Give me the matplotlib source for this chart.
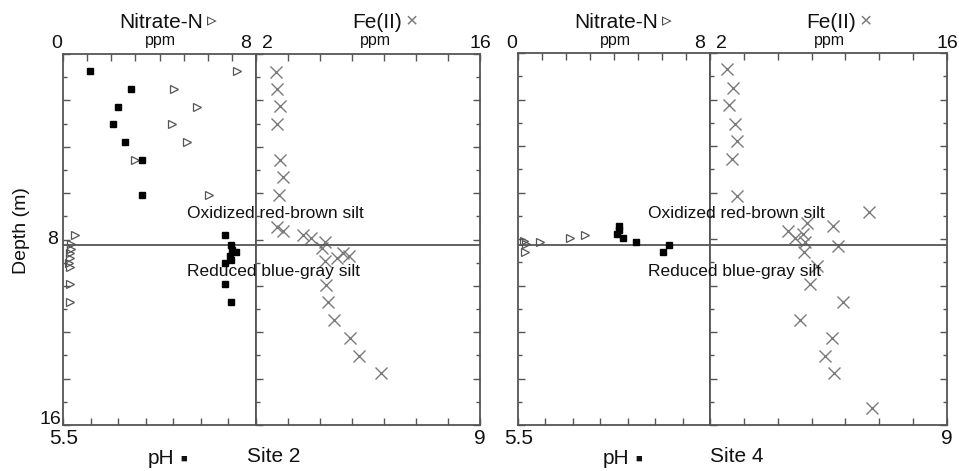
import matplotlib
matplotlib.use('Agg')
import matplotlib.pyplot as plt
from matplotlib.ticker import MultipleLocator

plt.rcParams['font.family'] = ['Liberation Sans', 'DejaVu Sans']

# ---- data ----
# Site 2
site2_ph_depth = [0.72, 1.53, 2.27, 3.04, 3.79, 4.59, 6.10, 7.80, 8.25, 8.45, 8.55, 8.70, 8.90, 9.02, 9.91, 10.70]
site2_ph = [5.73, 6.07, 5.96, 5.92, 6.02, 6.16, 6.16, 6.86, 6.91, 6.92, 6.95, 6.90, 6.91, 6.86, 6.86, 6.91]

site2_no3_depth = [0.72, 1.53, 2.27, 3.04, 3.79, 4.59, 6.10, 7.80, 8.20, 8.40, 8.59, 8.80, 9.02, 9.17, 9.91, 10.70]
site2_no3 = [7.20, 4.59, 5.56, 4.50, 5.15, 2.98, 6.05, 0.49, 0.32, 0.35, 0.28, 0.28, 0.24, 0.28, 0.28, 0.28]

site2_fe_depth = [0.78, 1.51, 2.23, 3.02, 4.56, 5.32, 6.10, 7.48, 7.63, 7.80, 7.94, 8.09, 8.37,
                  8.92, 8.78, 8.59, 8.73, 9.96, 10.68, 11.48, 12.23, 13.02, 13.77]
site2_fe = [3.25, 3.33, 3.50, 3.29, 3.50, 3.67, 3.44, 3.29, 3.71, 4.96, 5.44, 6.31, 6.10,
            6.31, 7.04, 7.46, 7.83, 6.38, 6.48, 6.88, 7.88, 8.46, 9.79]

# Site 4
site4_ph_depth = [7.45, 7.62, 7.80, 7.96, 8.11, 8.25, 8.54]
site4_ph = [6.32, 6.32, 6.31, 6.36, 6.46, 6.73, 6.68]

site4_no3_depth = [7.82, 7.94, 8.11, 8.10, 8.22, 8.57]
site4_no3 = [2.80, 2.18, 0.93, 0.25, 0.33, 0.28]

site4_fe_depth = [0.69, 1.51, 2.23, 3.04, 3.80, 4.56, 6.13, 6.85, 7.65, 7.94, 8.11, 8.57, 7.79, 7.32,
                  7.46, 8.30, 9.14, 9.95, 10.69, 11.48, 12.24, 13.03, 13.78, 15.28]
site4_fe = [2.98, 3.34, 3.14, 3.49, 3.57, 3.28, 3.57, 11.40, 6.62, 7.01, 7.60, 7.55, 7.51, 7.74,
            9.27, 9.57, 8.33, 7.90, 9.86, 7.31, 9.18, 8.78, 9.32, 11.58]

# depth of the oxidized / reduced boundary
site2_boundary = 8.23
site4_boundary = 8.25

# ---- figure ----
W, H = 959, 471
fig = plt.figure(figsize=(W / 100, H / 100), dpi=100)

FRAME = '#555555'
GRAY = '#7a7a7a'


def px_axes(x0, x1, top, bot):
    return fig.add_axes([x0 / W, 1 - bot / H, (x1 - x0) / W, (bot - top) / H])


def ftext(x, y, s, **kw):
    kw.setdefault('ha', 'center')
    kw.setdefault('va', 'center')
    kw.setdefault('color', '#111111')
    fig.text(x / W, 1 - y / H, s, **kw)


def style_depth(ax, left=True, right=False):
    ax.set_ylim(16, 0)
    ax.yaxis.set_major_locator(MultipleLocator(2))
    ax.yaxis.set_minor_locator(MultipleLocator(1))
    ax.tick_params(axis='y', which='both', direction='in', left=left, right=right,
                   labelleft=False, labelright=False, color=FRAME, width=1)
    ax.tick_params(axis='y', which='major', length=5)
    ax.tick_params(axis='y', which='minor', length=3)
    for sp in ax.spines.values():
        sp.set_color(FRAME)
        sp.set_linewidth(1.3)


def draw_site(x0, xd, x1, top, bot, ph, ph_d, no3, no3_d, fe, fe_d, boundary, site, site_x):
    # nitrate sub-panel
    ax_n = px_axes(x0, xd, top, bot)
    ax_n.set_xlim(0, 8)
    ax_n.set_xticks(range(0, 9))
    ax_n.tick_params(axis='x', direction='in', top=True, bottom=False, labeltop=False,
                     labelbottom=False, length=5, color=FRAME, width=1)
    style_depth(ax_n)
    # bottom ticks of the left part are spaced in sevenths
    sec = ax_n.secondary_xaxis('bottom', functions=(lambda v: v * 7 / 8, lambda v: v * 8 / 7))
    sec.set_xticks(range(0, 8))
    sec.tick_params(direction='in', length=5, color=FRAME, width=1, labelbottom=False)
    sec.spines['bottom'].set_visible(False)
    ax_n.plot(no3, no3_d, linestyle='none', marker='>', markersize=6, fillstyle='none',
              markeredgecolor='#555555', markeredgewidth=0.9)

    # Fe(II) sub-panel
    ax_fe = px_axes(xd, x1, top, bot)
    ax_fe.set_xlim(2, 16)
    ax_fe.set_xticks(range(2, 17, 2))
    ax_fe.tick_params(axis='x', direction='in', top=True, bottom=True, labeltop=False,
                      labelbottom=False, length=5, color=FRAME, width=1)
    style_depth(ax_fe, left=True, right=True)
    ax_fe.plot(fe, fe_d, linestyle='none', marker='x', markersize=8,
               markeredgecolor=GRAY, markeredgewidth=1.0)

    # pH spans the whole site frame
    ax_ph = px_axes(x0, x1, top, bot)
    ax_ph.set_xlim(5.5, 9)
    ax_ph.set_ylim(16, 0)
    ax_ph.patch.set_visible(False)
    ax_ph.axis('off')
    ax_ph.axhline(boundary, color=FRAME, linewidth=1.3)
    ax_ph.plot(ph, ph_d, linestyle='none', marker='s', markersize=5,
               markerfacecolor='black', markeredgecolor='black')
    ax_ph.text(7.28, boundary - 1.33, 'Oxidized red-brown silt', ha='center', va='center',
               fontsize=12.5, color='#111111')
    ax_ph.text(7.27, boundary + 1.13, 'Reduced blue-gray silt', ha='center', va='center',
               fontsize=12.5, color='#111111')

    # header labels
    ftext(x0 - 1, 43, '0', ha='right', fontsize=14)
    ftext(xd - 5, 43, '8', ha='right', fontsize=14)
    ftext(xd + 6, 43, '2', ha='left', fontsize=14)
    ftext(x1, 43, '16', fontsize=14)
    ftext(x0 + 56, 23, 'Nitrate-N', ha='left', fontsize=15)
    ftext(x0 + 144, 22, '\u25b9', ha='left', fontsize=14, color='#444444')
    ftext(x0 + 97, 40, 'ppm', fontsize=11.5)
    ftext(xd + 96, 23, 'Fe(II)', ha='left', fontsize=15)
    ftext(xd + 150, 22, '\u00d7', ha='left', fontsize=15, color=GRAY)
    ftext(xd + 119, 40, 'ppm', fontsize=11.5)

    # footer labels
    ftext(x0 + 1, 438, '5.5', fontsize=15)
    ftext(x1, 438, '9', fontsize=15)
    ftext(x0 + 85, 459, 'pH', ha='left', fontsize=15)
    ftext(x0 + 117, 459, '\u25a0', ha='left', fontsize=8)
    ftext(site_x, 457, site, fontsize=15)


draw_site(63, 256, 480, 54, 425, site2_ph, site2_ph_depth, site2_no3, site2_no3_depth,
          site2_fe, site2_fe_depth, site2_boundary, 'Site 2', 274)
draw_site(518, 710, 947, 53, 425, site4_ph, site4_ph_depth, site4_no3, site4_no3_depth,
          site4_fe, site4_fe_depth, site4_boundary, 'Site 4', 737)

# depth axis labels (only on the left site)
ftext(58, 240, '8', ha='right', fontsize=14)
ftext(61, 420, '16', ha='right', fontsize=14)
ftext(22, 231, 'Depth (m)', rotation=90, fontsize=14)

plt.savefig('out.png', dpi=100)
